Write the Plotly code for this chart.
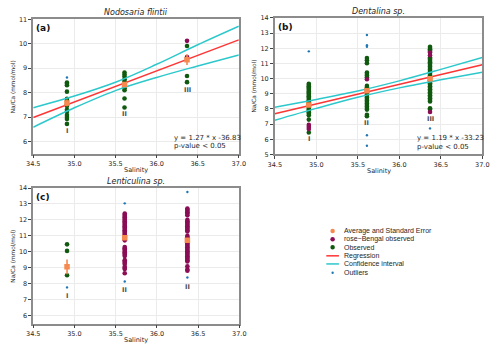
"""Na/Ca vs salinity for three benthic foraminifera taxa (three panels + legend)."""

import plotly.graph_objects as go

# --- data ---

GROUP_X = [34.91, 35.61, 36.37]
X_TICKS = [34.5, 35.0, 35.5, 36.0, 36.5, 37.0]
GROUP_LABELS_AB = ["I", "II", "III"]
GROUP_LABELS_C = ["I", "II", "II"]

# Panel (a) Nodosaria flintii
A_OBS = [
    [8.41, 8.36, 8.30, 8.04, 7.75, 7.66, 7.52, 7.45, 7.30, 7.22, 7.08, 7.00, 6.92, 6.72],
    [8.82, 8.74, 8.66, 8.55, 8.46, 8.38, 8.29, 8.18, 8.10, 7.76, 7.39],
    [9.91, 8.68, 8.43],
]
A_RB = [[], [], [10.12, 9.46, 9.42]]
A_OUT = [[8.62], [], []]
A_AVG = [7.58, 8.33, 9.35]
A_ERR = [0.14, 0.08, 0.22]
A_LABEL_Y = [6.45, 7.12, 8.12]
A_REG_X = [34.5, 37.0]
A_REG_Y = [6.985, 10.16]
A_CI_UP = [7.385, 7.861, 8.426, 9.160, 9.960, 10.72]
A_CI_LO = [6.585, 7.379, 8.084, 8.620, 9.090, 9.54]
A_EQ = "y = 1.27 * x -36.83"

# Panel (b) Dentalina sp.
B_OBS = [
    [9.66, 9.58, 9.50, 9.42, 9.34, 9.25, 9.16, 9.08, 9.00, 8.92, 8.84, 8.75, 8.66, 8.58,
     8.50, 8.42, 8.34, 8.24, 8.15, 8.06, 7.97, 7.88, 7.78, 7.68, 7.58, 7.30, 6.45],
    [11.36, 11.22, 11.02, 10.40, 10.30, 10.20, 10.10, 9.52, 9.42, 9.32, 9.20, 9.08, 8.96,
     8.86, 8.76, 8.66, 8.56, 8.46, 8.36, 8.26, 8.16, 8.06, 7.96, 7.62, 7.52],
    [12.10, 12.02, 11.94, 11.86, 11.78, 11.40, 11.32, 11.24, 11.16, 11.08, 11.00, 10.90,
     10.80, 10.70, 10.60, 10.50, 10.40, 10.30, 10.20, 10.10, 10.00, 9.90, 9.80, 9.70,
     9.60, 9.50, 9.40, 9.30, 9.20, 9.10, 9.00, 8.90, 8.80, 8.70, 8.60, 8.50, 8.05, 7.97],
]
B_RB = [[6.95, 6.82, 6.68], [9.96], [11.72, 11.55, 7.80]]
B_OUT = [[11.80], [12.88, 12.20, 12.10, 6.27, 5.58], [6.72]]
B_AVG = [8.27, 9.20, 10.00]
B_ERR = [0.10, 0.12, 0.10]
B_LABEL_Y = [6.05, 7.05, 7.35]
B_REG_X = [34.5, 37.0]
B_REG_Y = [7.69, 10.91]
B_CI_UP = [8.12, 8.628, 9.184, 9.853, 10.611, 11.40]
B_CI_LO = [7.26, 8.040, 8.772, 9.391, 9.921, 10.42]
B_EQ = "y = 1.19 * x -33.23"

# Panel (c) Lenticulina sp.
C_OBS = [[10.47, 10.06, 8.53], [], []]
C_RB = [
    [],
    [12.40, 12.32, 12.24, 12.16, 12.08, 12.00, 11.92, 11.84, 11.76, 11.68, 11.60, 11.52,
     11.44, 11.36, 11.28, 11.20, 11.12, 11.04, 10.96, 10.88, 10.80, 10.72, 10.30, 10.22,
     10.14, 10.06, 9.98, 9.90, 9.82, 9.74, 9.48, 9.40, 9.32, 9.24, 9.06, 8.98, 8.92, 8.66],
    [12.72, 12.64, 12.56, 12.48, 12.40, 12.30, 12.00, 11.92, 11.84, 11.76, 11.68, 11.60,
     11.52, 11.44, 11.36, 11.28, 11.00, 10.92, 10.84, 10.76, 10.68, 10.60, 10.52, 10.44,
     10.36, 10.28, 10.20, 10.12, 10.04, 9.96, 9.88, 9.80, 9.72, 9.64, 9.56, 9.48, 9.40,
     9.10, 8.90, 8.82],
]
C_OUT = [[7.77], [13.04, 8.14], [13.75, 8.39]]
C_AVG = [9.06, 10.88, 10.73]
C_ERR = [0.46, 0.08, 0.10]
C_LABEL_Y = [7.26, 7.61, 7.77]

LEGEND_LABELS = [
    "Average and Standard Error",
    "rose\u2212Bengal observed",
    "Observed",
    "Regression",
    "Confidence interval",
    "Outliers",
]

# --- style ---

W, H = 500, 351
GREEN = "#0f5a0f"
PURPLE = "#8a0d55"
ORANGE = "#f5894f"
RED = "#ff3434"
CYAN = "#2cc8cc"
BLUE = "#1f77b4"
FONT = "DejaVu Sans"
TEXT = "#262626"

# panel boxes in reference pixels: (left, right, top, bottom)
BOX_A = (27.0, 238.5, 15.7, 153.2)
BOX_B = (275.5, 489.0, 14.3, 154.0)
BOX_C = (27.0, 239.0, 188.3, 327.1)


def px_x(px):
    return px / W


def px_y(py):
    return 1 - py / H


def note(x, y, text, size, xanchor="center", color=TEXT, family=FONT, **kw):
    return dict(x=x, y=y, text=text, showarrow=False, xanchor=xanchor,
                yanchor="middle", font=dict(family=family, size=size, color=color),
                **kw)


def group_traces(xa, ya, obs, rb, out):
    traces = []
    for groups, color, size in ((obs, GREEN, 4.6), (rb, PURPLE, 4.6), (out, BLUE, 2.4)):
        for gx, pts in zip(GROUP_X, groups):
            if pts:
                traces.append(go.Scatter(x=[gx] * len(pts), y=pts, mode="markers",
                                         marker=dict(size=size, color=color),
                                         xaxis=xa, yaxis=ya, showlegend=False))
    return traces


def avg_trace(xa, ya, avg, err):
    return go.Scatter(x=GROUP_X, y=avg, mode="markers",
                      marker=dict(size=5.5, color=ORANGE, symbol="square"),
                      error_y=dict(type="data", array=err, color=ORANGE,
                                   thickness=1.6, width=0),
                      xaxis=xa, yaxis=ya, showlegend=False)


def reg_traces(xa, ya, reg_x, reg_y, ci_up, ci_lo):
    tr = [go.Scatter(x=reg_x, y=reg_y, mode="lines",
                     line=dict(color=RED, width=1.5),
                     xaxis=xa, yaxis=ya, showlegend=False)]
    for ci in (ci_up, ci_lo):
        tr.append(go.Scatter(x=X_TICKS, y=ci, mode="lines",
                             line=dict(color=CYAN, width=1.5, shape="spline"),
                             xaxis=xa, yaxis=ya, showlegend=False))
    return tr


def axis_common():
    return dict(showline=True, mirror=True, linecolor="#8c8c8c", linewidth=1.5,
                showgrid=True, gridcolor="#ebebeb", gridwidth=1, zeroline=False,
                ticks="outside", ticklen=3, tickcolor="#444", tickwidth=0.8,
                tickfont=dict(family=FONT, size=6.5, color=TEXT))


def axis_x(box, anchor):
    return dict(domain=[px_x(box[0]), px_x(box[1])], range=[34.5, 37.0],
                tickvals=X_TICKS, tickformat=".1f", anchor=anchor, **axis_common())


def axis_y(box, anchor, yrange, tickvals):
    return dict(domain=[px_y(box[3]), px_y(box[2])], range=yrange,
                tickvals=tickvals, anchor=anchor, **axis_common())


def panel_text(box, letter, title, xa, ya, labels, label_y, eq=None):
    cx = (box[0] + box[1]) / 2
    ann = [
        note(px_x(cx), px_y(box[2] - 7), f"<i>{title}</i>", 8,
             xref="paper", yref="paper"),
        note(px_x(box[0] + 1.0), px_y(box[2] + 9), f"<b>{letter}</b>", 9,
             xanchor="left", color="#111", xref="paper", yref="paper"),
        note(px_x(cx), px_y(box[3] + 16.5), "Salinity", 6.5,
             xref="paper", yref="paper"),
        note(px_x(box[0] - 21), px_y((box[2] + box[3]) / 2), "Na/Ca (mmol/mol)", 5.8,
             xref="paper", yref="paper", textangle=-90),
    ]
    for gx, lab, ly in zip(GROUP_X, labels, label_y):
        ann.append(note(gx, ly, f"<b>{lab}</b>", 6.5, color="#4a4a4a",
                        xref=xa, yref=ya))
    if eq:
        ann.append(note(0.675, 0.12, eq, 7, xanchor="left",
                        xref=f"{xa} domain", yref=f"{ya} domain"))
        ann.append(note(0.675, 0.055, "p-value < 0.05", 7, xanchor="left",
                        xref=f"{xa} domain", yref=f"{ya} domain"))
    return ann


def legend_items():
    shapes, ann = [], []
    rows = [232.3, 240.7, 249.0, 257.7, 266.0, 275.0]
    kinds = [("dot", ORANGE, 2.3), ("dot", PURPLE, 2.3), ("dot", GREEN, 2.3),
             ("line", RED, 0), ("line", CYAN, 0), ("dot", BLUE, 1.2)]
    for label, ry, (kind, col, r) in zip(LEGEND_LABELS, rows, kinds):
        if kind == "dot":
            shapes.append(dict(type="circle", xref="paper", yref="paper",
                               x0=px_x(335 - r), x1=px_x(335 + r),
                               y0=px_y(ry + r), y1=px_y(ry - r),
                               fillcolor=col, line=dict(width=0)))
        else:
            shapes.append(dict(type="line", xref="paper", yref="paper",
                               x0=px_x(328.5), x1=px_x(341.5), y0=px_y(ry), y1=px_y(ry),
                               line=dict(color=col, width=1.5)))
        ann.append(note(px_x(345.0), px_y(ry), label, 7, xanchor="left",
                        family="Liberation Sans Narrow, Liberation Sans",
                        xref="paper", yref="paper"))
    return shapes, ann


traces = []
traces += group_traces("x", "y", A_OBS, A_RB, A_OUT)
traces += reg_traces("x", "y", A_REG_X, A_REG_Y, A_CI_UP, A_CI_LO)
traces.append(avg_trace("x", "y", A_AVG, A_ERR))
traces += group_traces("x2", "y2", B_OBS, B_RB, B_OUT)
traces += reg_traces("x2", "y2", B_REG_X, B_REG_Y, B_CI_UP, B_CI_LO)
traces.append(avg_trace("x2", "y2", B_AVG, B_ERR))
traces += group_traces("x3", "y3", C_OBS, C_RB, C_OUT)
traces.append(avg_trace("x3", "y3", C_AVG, C_ERR))

annotations = []
annotations += panel_text(BOX_A, "(a)", "Nodosaria flintii", "x", "y",
                          GROUP_LABELS_AB, A_LABEL_Y, A_EQ)
annotations += panel_text(BOX_B, "(b)", "Dentalina sp.", "x2", "y2",
                          GROUP_LABELS_AB, B_LABEL_Y, B_EQ)
annotations += panel_text(BOX_C, "(c)", "Lenticulina sp.", "x3", "y3",
                          GROUP_LABELS_C, C_LABEL_Y)
leg_shapes, leg_ann = legend_items()
annotations += leg_ann

fig = go.Figure(data=traces)
fig.update_layout(
    width=W, height=H,
    margin=dict(l=0, r=0, t=0, b=0),
    paper_bgcolor="white", plot_bgcolor="white",
    showlegend=False,
    hovermode=False,
    xaxis=axis_x(BOX_A, "y"),
    yaxis=axis_y(BOX_A, "x", [5.5, 11], list(range(6, 12))),
    xaxis2=axis_x(BOX_B, "y2"),
    yaxis2=axis_y(BOX_B, "x2", [5, 14], list(range(5, 15))),
    xaxis3=axis_x(BOX_C, "y3"),
    yaxis3=axis_y(BOX_C, "x3", [5.5, 14], list(range(6, 15))),
    annotations=annotations,
    shapes=leg_shapes,
)
# drop the browser's default body margin so the figure fills the window exactly
fig.write_html("out.html", config={"displayModeBar": False},
               post_script="document.body.style.margin = '0';")
